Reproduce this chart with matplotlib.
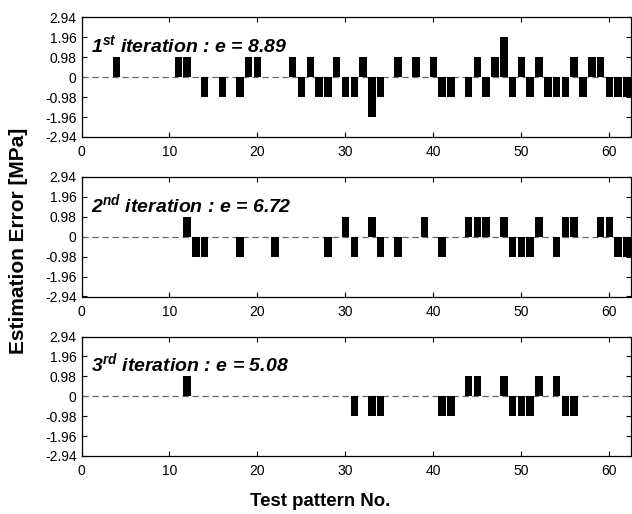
import numpy as np
import matplotlib
matplotlib.use('Agg')
import matplotlib.pyplot as plt

plt.rcParams['font.family'] = ['Liberation Sans', 'DejaVu Sans']
plt.rcParams['mathtext.fontset'] = 'custom'

# estimation error per test pattern (only non-zero patterns listed)
pat1 = [4, 11, 12, 14, 16, 18, 19, 20, 24, 25, 26, 27, 28, 29, 30, 31, 32, 33, 34, 36, 38,
        40, 41, 42, 44, 45, 46, 47, 48, 49, 50, 51, 52, 53, 54, 55, 56, 57, 58, 59, 60, 61, 62]
err1 = [0.98, 0.98, 0.98, -0.98, -0.98, -0.98, 0.98, 0.98, 0.98, -0.98, 0.98, -0.98, -0.98,
        0.98, -0.98, -0.98, 0.98, -1.96, -0.98, 0.98, 0.98, 0.98, -0.98, -0.98, -0.98, 0.98,
        -0.98, 0.98, 1.96, -0.98, 0.98, -0.98, 0.98, -0.98, -0.98, -0.98, 0.98, -0.98, 0.98,
        0.98, -0.98, -0.98, -0.98]

pat2 = [12, 13, 14, 18, 22, 28, 30, 31, 33, 34, 36, 39, 41, 44, 45, 46, 48, 49, 50, 51, 52,
        54, 55, 56, 59, 60, 61, 62]
err2 = [0.98, -0.98, -0.98, -0.98, -0.98, -0.98, 0.98, -0.98, 0.98, -0.98, -0.98, 0.98,
        -0.98, 0.98, 0.98, 0.98, 0.98, -0.98, -0.98, -0.98, 0.98, -0.98, 0.98, 0.98, 0.98,
        0.98, -0.98, -0.98]

pat3 = [12, 31, 33, 34, 41, 42, 44, 45, 48, 49, 50, 51, 52, 54, 55, 56]
err3 = [0.98, -0.98, -0.98, -0.98, -0.98, -0.98, 0.98, 0.98, 0.98, -0.98, -0.98, -0.98,
        0.98, 0.98, -0.98, -0.98]

labels = [r'$\mathdefault{1^{st}}$ iteration : e = 8.89',
          r'$\mathdefault{2^{nd}}$ iteration : e = 6.72',
          r'$\mathdefault{3^{rd}}$ iteration : e = 5.08']

yticks = [-2.94, -1.96, -0.98, 0, 0.98, 1.96, 2.94]
ytlabels = ['-2.94', '-1.96', '-0.98', '0', '0.98', '1.96', '2.94']
xticks = [0, 10, 20, 30, 40, 50, 60]

fig = plt.figure(figsize=(6.32, 5.14), dpi=100)
W, H = 632, 514
tops = [17.5, 177.0, 336.5]
data = [(pat1, err1), (pat2, err2), (pat3, err3)]

for i, (p, e) in enumerate(data):
    ax = fig.add_axes([81.5 / W, 1 - (tops[i] + 119.5) / H, 549 / W, 119.5 / H])
    ax.bar(p, e, width=0.85, color='black', zorder=3)
    ax.axhline(0, color='0.4', lw=0.9, ls=(0, (5, 3)), zorder=2)
    ax.set_xlim(0, 62.4)
    ax.set_ylim(-2.94, 2.94)
    ax.set_yticks(yticks)
    ax.set_yticklabels(ytlabels)
    ax.set_xticks(xticks)
    ax.tick_params(direction='in', top=True, right=True, length=3.5, width=0.8)
    ax.tick_params(axis='y', labelsize=10, pad=3.5)
    ax.tick_params(axis='x', labelsize=10, pad=6)
    for s in ax.spines.values():
        s.set_linewidth(0.9)
    ax.text(1.1, 1.22, labels[i], fontsize=14, fontweight='bold', style='italic')

fig.text(19 / W, 1 - 241 / H, 'Estimation Error [MPa]', rotation=90, ha='center',
         va='center', fontsize=15, fontweight='bold')
fig.text(320 / W, 1 - 501 / H, 'Test pattern No.', ha='center', va='center',
         fontsize=13.4, fontweight='bold')

fig.savefig('out.png', dpi=100)
